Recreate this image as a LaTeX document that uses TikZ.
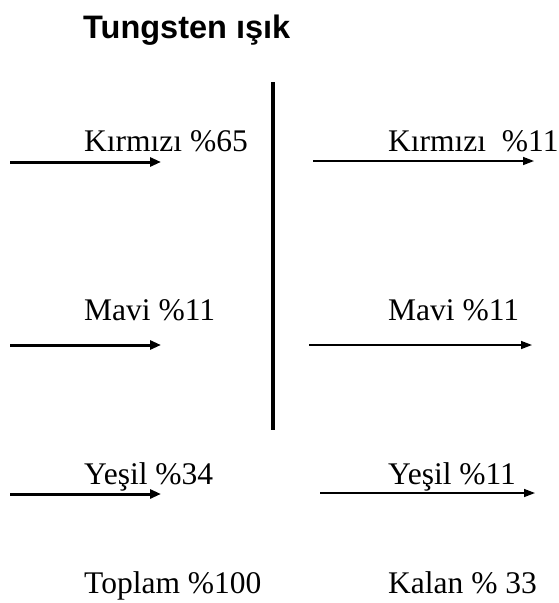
\documentclass[tikz,border=0pt]{standalone}
\usepackage{fontspec}
\setmainfont{Liberation Serif}
\newfontfamily\arialfont{Liberation Sans}
\usetikzlibrary{arrows.meta}
\begin{document}
\begin{tikzpicture}[x=1pt,y=-1pt,
  lbl/.style={anchor=base west,inner sep=0pt,font=\fontsize{31.5}{34}\selectfont},
  thickarr/.style={line width=3pt,-{Triangle[length=11pt,width=9pt]}},
  thinarr/.style={line width=1.5pt,-{Triangle[length=11pt,width=8pt]}}]
\useasboundingbox (0,0) rectangle (559,603);
\node[anchor=base west,inner sep=0pt,font=\arialfont\bfseries\fontsize{32.5}{35}\selectfont] (title) at (83,38) {Tungsten ışık};
% vertical barrier
\coordinate (vt) at (273,82);
\coordinate (vb) at (273,430);
\draw[line width=4pt] (vt) -- (vb);
% labels
\node[lbl] (k1) at (84,151) {Kırmızı \%65};
\node[lbl] (k2) at (388,151) {Kırmızı \ \%11};
\node[lbl] (m1) at (84,320) {Mavi \%11};
\node[lbl] (m2) at (388,320) {Mavi \%11};
\node[lbl] (y1) at (84,484) {Yeşil \%34};
\node[lbl] (y2) at (388,484) {Yeşil \%11};
\node[lbl] (t1) at (84,593) {Toplam \%100};
\node[lbl] (t2) at (388,593) {Kalan \% 33};
% arrow endpoints
\coordinate (ak1s) at (10,162); \coordinate (ak1e) at (161,162);
\coordinate (am1s) at (10,345); \coordinate (am1e) at (161,345);
\coordinate (ay1s) at (10,494); \coordinate (ay1e) at (161,494);
\coordinate (ak2s) at (313,161); \coordinate (ak2e) at (534,161);
\coordinate (am2s) at (309,345); \coordinate (am2e) at (532,345);
\coordinate (ay2s) at (320,493); \coordinate (ay2e) at (535,493);
\draw[thickarr] (ak1s) -- (ak1e);
\draw[thickarr] (am1s) -- (am1e);
\draw[thickarr] (ay1s) -- (ay1e);
\draw[thinarr] (ak2s) -- (ak2e);
\draw[thinarr] (am2s) -- (am2e);
\draw[thinarr] (ay2s) -- (ay2e);
\end{tikzpicture}
\end{document}
